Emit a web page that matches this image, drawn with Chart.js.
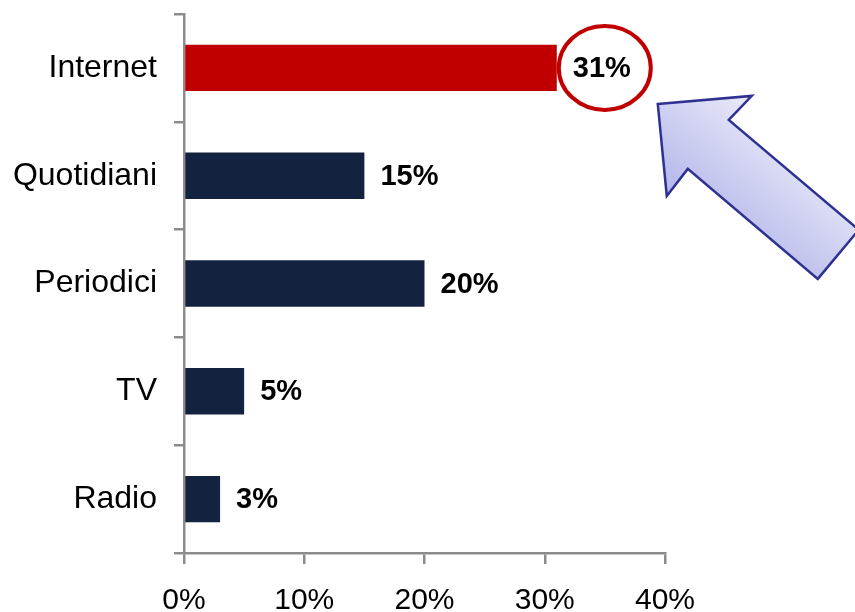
<!DOCTYPE html>
<html>
<head>
<meta charset="utf-8">
<script src="https://cdn.jsdelivr.net/npm/chart.js@4.4.1/dist/chart.umd.min.js"></script>
<style>
    html, body { margin: 0; padding: 0; background: #fff; overflow: hidden; }
    #wrap { position: relative; width: 855px; height: 612px; }
</style>
</head>
<body>
<div id="wrap"><canvas id="mediaChart"></canvas></div>
<script>
// media shares, in percent
const categories = ['Internet', 'Quotidiani', 'Periodici', 'TV', 'Radio'];
const shares = [31, 15, 20, 5, 3];
const axisTicks = [0, 10, 20, 30, 40];

const axisGrey = '#8c8c8c';

function barColor(i) {
    return i === 0 ? '#c00000' : '#13233f';
}

// percent labels next to each bar, circled for the highlighted one, plus the pointer arrow
const valueLabels = {
    id: 'valueLabels',
    afterDatasetsDraw(chart) {
        var ctx = chart.ctx;
        var meta = chart.getDatasetMeta(0);
        ctx.save();
        meta.data.forEach(function(bar, i) {
            var x = bar.x + 16;
            var y = bar.y;
            if (i === 0) {
                var cx = bar.x + 48, cy = bar.y;
                ctx.beginPath();
                ctx.ellipse(cx, cy, 46, 42, 0, 0, Math.PI * 2);
                ctx.fillStyle = '#fff';
                ctx.fill();
                ctx.lineWidth = 4;
                ctx.strokeStyle = '#c00000';
                ctx.stroke();
                drawArrow(ctx, cx, cy);
            }
            ctx.font = 'bold 29px "Liberation Sans", Arial, sans-serif';
            ctx.fillStyle = '#000';
            ctx.textAlign = 'left';
            ctx.textBaseline = 'middle';
            ctx.fillText(shares[i] + '%', x, y + 1);
        });
        ctx.restore();
    }
};

function drawArrow(ctx, cx, cy) {
    var pts = [[53, 36], [147, 28], [124, 52], [254, 162], [213, 211], [83, 101], [62, 128]];
    ctx.beginPath();
    pts.forEach(function(p, k) {
        if (k === 0) ctx.moveTo(cx + p[0], cy + p[1]);
        else ctx.lineTo(cx + p[0], cy + p[1]);
    });
    ctx.closePath();
    var g = ctx.createLinearGradient(cx + 95, cy + 195, cx + 195, cy + 75);
    g.addColorStop(0, '#a6aae6');
    g.addColorStop(1, '#e8e8f8');
    ctx.fillStyle = g;
    ctx.fill();
    ctx.lineWidth = 2.5;
    ctx.lineJoin = 'miter';
    ctx.strokeStyle = '#2e3192';
    ctx.stroke();
}

var ctx = document.getElementById('mediaChart').getContext('2d');
var mediaChart = new Chart(ctx, {
    type: 'bar',
    data: {
        labels: categories,
        datasets: [{
            data: shares,
            backgroundColor: shares.map((v, i) => barColor(i)),
            barPercentage: 0.43,
            categoryPercentage: 1
        }]
    },
    options: {
        indexAxis: 'y',
        responsive: true,
        maintainAspectRatio: false,
        animation: false,
        layout: {
            padding: { top: 14, right: 190, bottom: 0, left: 0 }
        },
        plugins: {
            legend: { display: false },
            tooltip: { enabled: false }
        },
        scales: {
            x: {
                min: axisTicks[0],
                max: axisTicks[axisTicks.length - 1],
                afterFit: function(scale) {
                    scale.height = 59;
                    scale.paddingLeft = 0;
                    scale.paddingRight = 0;
                },
                afterBuildTicks: function(scale) {
                    scale.ticks = axisTicks.map(v => ({ value: v }));
                },
                grid: {
                    drawOnChartArea: false,
                    drawTicks: true,
                    tickLength: 11,
                    color: axisGrey,
                    lineWidth: 2.5
                },
                border: { color: axisGrey, width: 2.5 },
                ticks: {
                    padding: 19,
                    color: '#000',
                    font: { family: '"Liberation Sans", Arial, sans-serif', size: 30 },
                    callback: function(v) { return v + '%'; }
                }
            },
            y: {
                afterFit: function(scale) {
                    scale.width = 184;
                    scale.paddingTop = 0;
                    scale.paddingBottom = 0;
                },
                grid: {
                    drawOnChartArea: false,
                    drawTicks: true,
                    tickLength: 10,
                    color: axisGrey,
                    lineWidth: 2.5
                },
                border: { color: axisGrey, width: 2.5 },
                ticks: {
                    padding: 17,
                    color: '#000',
                    font: { family: '"Liberation Sans", Arial, sans-serif', size: 32 }
                }
            }
        }
    },
    plugins: [valueLabels]
});
</script>
</body>
</html>
